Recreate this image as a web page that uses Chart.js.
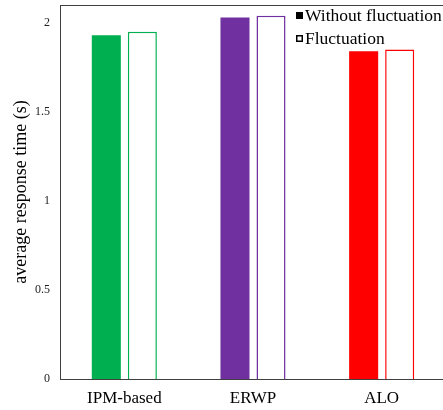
<!DOCTYPE html>
<html>
<head>
<meta charset="utf-8">
<script src="https://cdn.jsdelivr.net/npm/chart.js@4"></script>
<style>
  html, body { margin: 0; padding: 0; background: #fff; overflow: hidden; }
  canvas { display: block; }
</style>
</head>
<body>
<canvas id="bars" width="446" height="410"></canvas>
<script>
const methods = ['IPM-based', 'ERWP', 'ALO'];
const withoutFluct = [1.93, 2.03, 1.84];
const withFluct = [1.95, 2.04, 1.85];
const methodColors = ['#00B050', '#7030A0', '#FF0000'];
const yTickValues = [0, 0.5, 1, 1.5, 2];

const serif = '"Liberation Serif", "Times New Roman", serif';

// frame on top of the plot + the little square legend in the corner
const framePlugin = {
  id: 'frame',
  afterDraw(chart) {
    const { ctx, chartArea } = chart;
    ctx.save();
    ctx.strokeStyle = '#404040';
    ctx.lineWidth = 1;
    ctx.beginPath();
    ctx.moveTo(chartArea.left, chartArea.top + 0.5);
    ctx.lineTo(chartArea.right, chartArea.top + 0.5);
    ctx.stroke();

    ctx.font = '17.5px ' + serif;
    ctx.textBaseline = 'alphabetic';
    chart.data.datasets.forEach((ds, i) => {
      const base = 21 + i * 23;
      if (i === 0) {
        ctx.fillStyle = '#000';
        ctx.fillRect(296, base - 9, 7, 7);
      } else {
        ctx.strokeStyle = '#000';
        ctx.lineWidth = 1.5;
        ctx.strokeRect(296.75, base - 8.25, 5.5, 5.5);
      }
      ctx.fillStyle = '#000';
      ctx.fillText(ds.label, 305, base);
    });
    ctx.restore();
  }
};

new Chart('bars', {
  type: 'bar',
  data: {
    labels: methods,
    datasets: [
      {
        label: 'Without fluctuation',
        data: withoutFluct,
        backgroundColor: methodColors,
        borderWidth: 0,
      },
      {
        label: 'Fluctuation',
        data: withFluct,
        backgroundColor: '#ffffff',
        borderColor: methodColors,
        borderWidth: 1.5,
      },
    ],
  },
  options: {
    responsive: false,
    animation: false,
    layout: { padding: { top: 5, left: 0, right: 0, bottom: 0 } },
    datasets: {
      bar: { categoryPercentage: 0.56, barPercentage: 0.806 },
    },
    plugins: {
      legend: { display: false },
      tooltip: { enabled: false },
    },
    scales: {
      x: {
        grid: { display: false, drawTicks: false },
        border: { display: true, color: '#404040', width: 1 },
        ticks: { color: '#000', padding: 9, font: { family: serif, size: 17 } },
        afterFit: (scale) => {
          scale.height = 31;
          scale.paddingLeft = 0;
          scale.paddingRight = 0;
        },
      },
      y: {
        min: 0,
        max: 2.1,
        grid: { display: false, drawTicks: false },
        border: { display: true, color: '#404040', width: 1 },
        afterBuildTicks: (scale) => {
          scale.ticks = yTickValues.map(v => ({ value: v }));
        },
        ticks: {
          color: '#222',
          padding: 10,
          font: { family: serif, size: 12 },
          callback: (v) => String(v),
        },
        title: {
          display: true,
          text: 'average response time (s)',
          color: '#000',
          font: { family: serif, size: 18 },
          padding: { top: 10, bottom: 0 },
        },
        afterFit: (scale) => {
          scale.width = 60;
          scale.paddingTop = 0;
          scale.paddingBottom = 0;
        },
      },
    },
  },
  plugins: [framePlugin],
});
</script>
</body>
</html>
